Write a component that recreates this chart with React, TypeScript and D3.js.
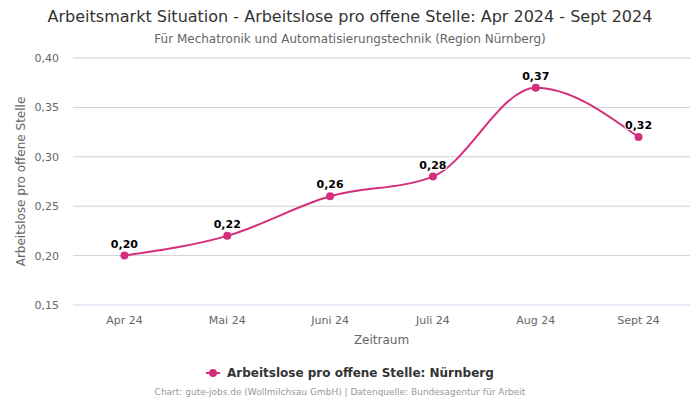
import React from "react";
import * as d3 from "d3";

const categories = ["Apr 24", "Mai 24", "Juni 24", "Juli 24", "Aug 24", "Sept 24"];
const values = [0.2, 0.22, 0.26, 0.28, 0.37, 0.32];
const yTicks = [0.15, 0.2, 0.25, 0.3, 0.35, 0.4];

const W = 700;
const H = 400;
const left = 73;
const right = 690;
const top = 58;
const bottom = 305;
const color = "#d42f7c";
const font = "DejaVu Sans, sans-serif";
const fmt = (v: number) => v.toFixed(2).replace(".", ",");

export default function App() {
  const x = d3.scaleBand<string>().domain(categories).range([left, right]);
  const y = d3.scaleLinear().domain([0.15, 0.4]).range([bottom, top]);
  const cx = (c: string) => (x(c) as number) + x.bandwidth() / 2;
  const pts: [number, number][] = categories.map((c, i) => [cx(c), y(values[i])]);
  const line = d3.line().curve(d3.curveMonotoneX)(pts) as string;

  return (
    <svg width={W} height={H} style={{ position: "absolute", left: 0, top: 0, fontFamily: font }}>
      <rect width={W} height={H} fill="#fff" />
      <text x={350} y={22} textAnchor="middle" fontSize={16} fill="#333">
        Arbeitsmarkt Situation - Arbeitslose pro offene Stelle: Apr 2024 - Sept 2024
      </text>
      <text x={350} y={43} textAnchor="middle" fontSize={12} fill="#666">
        Für Mechatronik und Automatisierungstechnik (Region Nürnberg)
      </text>
      {yTicks.map((t) => (
        <g key={t}>
          <line x1={left} x2={right} y1={y(t)} y2={y(t)} stroke={t === 0.15 ? "#ccd6eb" : "#d0d0d0"} strokeWidth={1} />
          <text x={59} y={y(t) + 4} textAnchor="end" fontSize={11} fill="#666">
            {fmt(t)}
          </text>
        </g>
      ))}
      <text
        transform={`translate(25,${(top + bottom) / 2}) rotate(-90)`}
        textAnchor="middle"
        fontSize={12}
        fill="#666"
      >
        Arbeitslose pro offene Stelle
      </text>
      {categories.map((c) => (
        <text key={c} x={cx(c)} y={324} textAnchor="middle" fontSize={11} fill="#666">
          {c}
        </text>
      ))}
      <text x={(left + right) / 2} y={344} textAnchor="middle" fontSize={12} fill="#666">
        Zeitraum
      </text>
      <path d={line} fill="none" stroke={color} strokeWidth={2} />
      {pts.map((p, i) => (
        <g key={i}>
          <circle cx={p[0]} cy={p[1]} r={4} fill={color} />
          <text
            x={p[0]}
            y={p[1] - 8}
            textAnchor="middle"
            fontSize={11}
            fontWeight="bold"
            fill="#000"
            stroke="#fff"
            strokeWidth={2}
            paintOrder="stroke"
          >
            {fmt(values[i])}
          </text>
        </g>
      ))}
      <line x1={206} x2={220} y1={373} y2={373} stroke={color} strokeWidth={2} />
      <circle cx={213} cy={373} r={4} fill={color} />
      <text x={227} y={377} fontSize={12} fontWeight="bold" fill="#333">
        Arbeitslose pro offene Stelle: Nürnberg
      </text>
      <text x={340} y={395} textAnchor="middle" fontSize={9} fill="#999">
        Chart: gute-jobs.de (Wollmilchsau GmbH) | Datenquelle: Bundesagentur für Arbeit
      </text>
    </svg>
  );
}
